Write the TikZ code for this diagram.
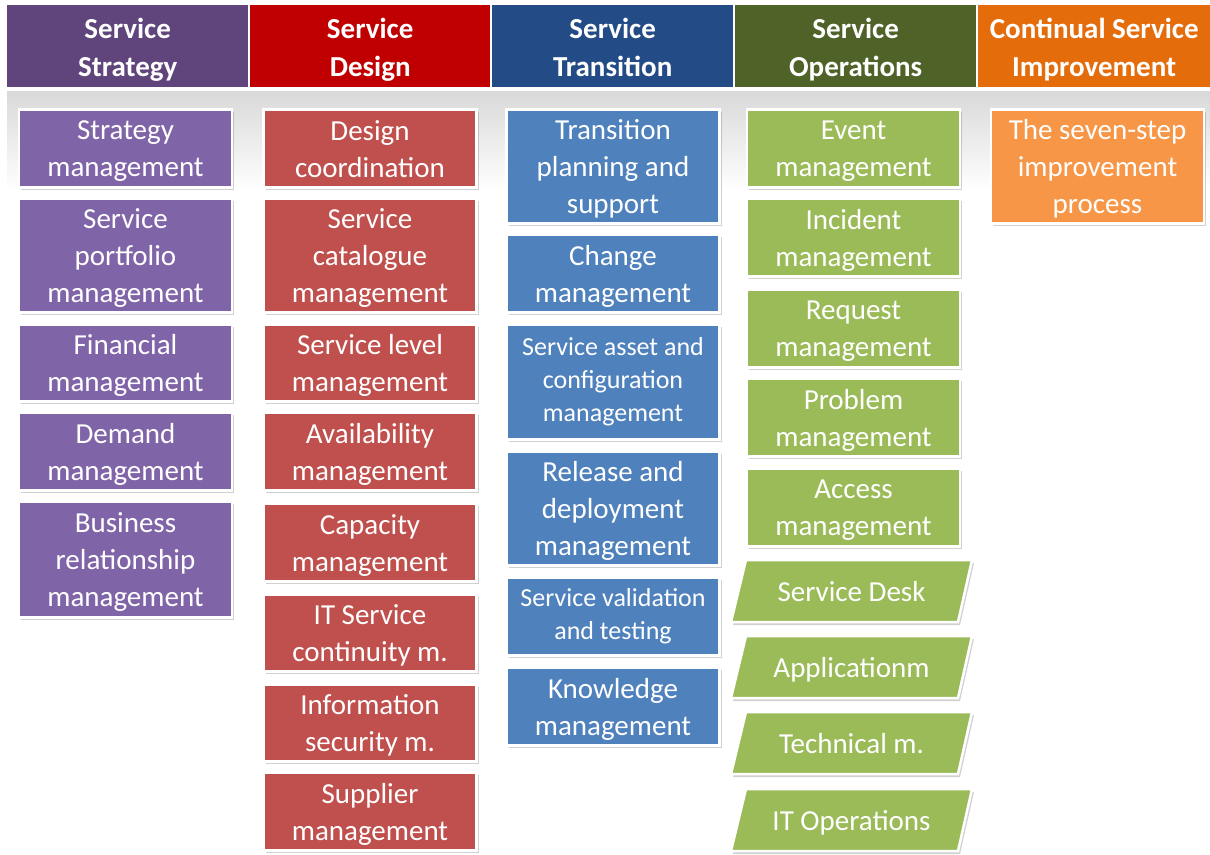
\documentclass[tikz,border=0pt]{standalone}
\usepackage{fontspec}
\setmainfont{Carlito}
\usetikzlibrary{shadows}

\definecolor{sshead}{HTML}{5F457C}
\definecolor{sdhead}{HTML}{C00000}
\definecolor{sthead}{HTML}{234C86}
\definecolor{sohead}{HTML}{4F6228}
\definecolor{cihead}{HTML}{E46C0A}
\definecolor{ssbox}{HTML}{8064A8}
\definecolor{sdbox}{HTML}{C0504D}
\definecolor{stbox}{HTML}{4F81BD}
\definecolor{sobox}{HTML}{9BBB59}
\definecolor{cibox}{HTML}{F79646}

\tikzset{
  head/.style={fill=#1,minimum height=82pt,inner sep=0pt,anchor=north west},
  headtext/.style={text=white,font=\bfseries\fontsize{29}{38}\selectfont,
    align=center,inner sep=0pt,yshift=-6.5pt,
    execute at begin node=\strut,execute at end node=\strut},
  item/.style={fill=#1,draw=white,line width=2.5pt,minimum width=213pt,
    inner sep=0pt,anchor=north,
    drop shadow={shadow xshift=2pt,shadow yshift=-3pt,opacity=.3,fill=black!60}},
  itemtext/.style={text=white,font=\fontsize{29}{37}\selectfont,align=center,
    inner sep=0pt,yshift=-6pt,
    execute at begin node=\strut,execute at end node=\strut},
  smalltext/.style={text=white,font=\fontsize{26}{33}\selectfont,align=center,
    inner sep=0pt,yshift=-3pt,
    execute at begin node=\strut,execute at end node=\strut},
  para/.style={fill=sobox,draw=white,line width=2.5pt,
    drop shadow={shadow xshift=2pt,shadow yshift=-3pt,opacity=.3,fill=black!60}},
  paratext/.style={text=white,font=\fontsize{29}{37}\selectfont,inner sep=0pt,
    execute at begin node=\strut}
}

\begin{document}
\begin{tikzpicture}[x=1pt,y=-1pt]
  \useasboundingbox (0,0) rectangle (1210,854);

  % band under the headers
  \shade[top color=black!15,bottom color=white] (7,91) rectangle (1210,190);

  % phase headers
  \foreach \n/\x/\w/\c/\txt in {hss/7/241/sshead/{Service\\Strategy},
      hsd/250/240/sdhead/{Service\\Design},
      hst/492/241/sthead/{Service\\Transition},
      hso/735/241/sohead/{Service\\Operations},
      hci/978/232/cihead/{Continual Service\\Improvement}}{
    \node[head=\c,minimum width=\w pt] (\n) at (\x,5) {};
    \node[headtext] (\n-t) at (\n.center) {\txt};
  }

  % strategy
  \foreach \n/\t/\h/\txt in {ss1/108/78/{Strategy\\management},
      ss2/197/114/{Service\\portfolio\\management},
      ss3/323/77/{Financial\\management},
      ss4/411/78/{Demand\\management},
      ss5/500/116/{Business\\relationship\\management}}{
    \node[item=ssbox,minimum height=\h pt] (\n) at (125.5,\t) {};
    \node[itemtext] (\n-t) at (\n.center) {\txt};
  }

  % design
  \foreach \n/\t/\h/\txt in {sd1/108/78/{Design\\coordination},
      sd2/197/114/{Service\\catalogue\\management},
      sd3/323/77/{Service level\\management},
      sd4/411/78/{Availability\\management},
      sd5/502/78/{Capacity\\management},
      sd6/593/77/{IT Service\\continuity m.},
      sd7/683/77/{Information\\security m.},
      sd8/771/78/{Supplier\\management}}{
    \node[item=sdbox,minimum height=\h pt] (\n) at (370,\t) {};
    \node[itemtext] (\n-t) at (\n.center) {\txt};
  }

  % transition
  \foreach \n/\t/\h in {st1/108/114, st2/233/78, st3/323/115,
      st4/450/114, st5/576/78, st6/666/78}
    \node[item=stbox,minimum height=\h pt] (\n) at (613,\t) {};
  \node[itemtext] (st1-t) at (st1.center) {Transition\\planning and\\support};
  \node[itemtext] (st2-t) at (st2.center) {Change\\management};
  \node[smalltext] (st3-t) at (st3.center) {Service asset and\\configuration\\management};
  \node[itemtext] (st4-t) at (st4.center) {Release and\\deployment\\management};
  \node[smalltext] (st5-t) at (st5.center) {Service validation\\and testing};
  \node[itemtext] (st6-t) at (st6.center) {Knowledge\\management};

  % operations
  \foreach \n/\t/\txt in {so6/560/Service Desk, so7/636/Applicationm,
      so8/712/Technical m., so9/789/IT Operations}{
    \filldraw[para] (746,\t) -- ++(226,0) -- ++(-14,62) -- ++(-227,0) -- cycle;
    \node[paratext] (\n) at (851.5,\t+34) {\txt};
  }
  \foreach \n/\t/\txt in {so1/108/Event, so2/197/Incident, so3/288/Request,
      so4/377/Problem, so5/467/Access}{
    \node[item=sobox,minimum height=78pt] (\n) at (853.5,\t) {};
    \node[itemtext] (\n-t) at (\n.center) {\txt\\management};
  }

  % improvement
  \node[item=cibox,minimum height=114pt] (ci1) at (1097.5,108) {};
  \node[itemtext] (ci1-t) at (ci1.center) {The seven-step\\improvement\\process};
\end{tikzpicture}
\end{document}
